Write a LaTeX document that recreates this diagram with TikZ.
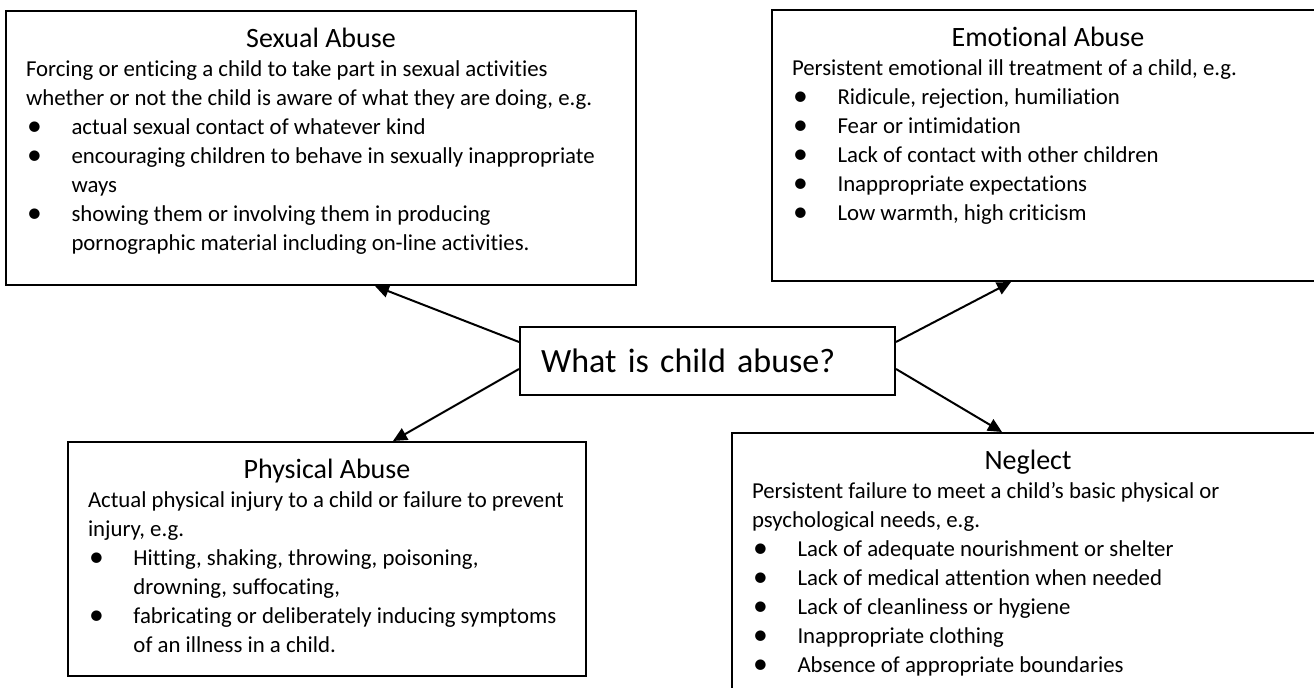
\documentclass[tikz,border=0pt]{standalone}
\usepackage{fontspec}
\usepackage{graphicx}
\setmainfont{Carlito}[Ligatures={NoCommon}]
\usetikzlibrary{arrows.meta}

\newcommand{\boxtitle}[1]{{\centering\fontsize{14}{14.5}\selectfont\rule{0pt}{18.5pt}#1\par}}
\newcommand{\boxline}[1]{\noindent\mbox{#1}\par}
\newcommand{\boxbullet}[1]{\noindent\makebox[22.75pt][l]{\hspace{0.5pt}\raisebox{-0.3pt}{\scalebox{1.3}{\textbullet}}}\mbox{#1}\par}
\newcommand{\boxmore}[1]{\noindent\hspace*{22.75pt}\mbox{#1}\par}
\newcommand{\boxbody}[3]{\parbox[t][#2][t]{#1}{\fontsize{11.4}{14.5}\selectfont #3}}

\begin{document}
\begin{tikzpicture}[x=0.5pt,y=-0.5pt,
    infobox/.style={draw, line width=1pt, anchor=north west, inner xsep=10pt, inner ysep=0pt},
    link/.style={line width=1pt, -{Triangle[length=7pt,width=6.5pt]}}]
\useasboundingbox (0,0) rectangle (1314,688);
\clip (0,0) rectangle (1314,688);
%----------question-----------------------------
\node[draw, line width=1pt, anchor=north west, minimum width=187.5pt, minimum height=34pt,
    inner xsep=10.5pt, text width=166.5pt, align=left, font=\fontsize{17}{20.4}\selectfont]
    (question) at (519,326) {What is child abuse?};
%----------sexual abuse-------------------------
\node[infobox] (sexual) at (5,10) {\boxbody{295pt}{137pt}{%
    \boxtitle{Sexual Abuse}
    \boxline{Forcing or enticing a child to take part in sexual activities}
    \boxline{whether or not the child is aware of what they are doing, e.g.}
    \boxbullet{actual sexual contact of whatever kind}
    \boxbullet{encouraging children to behave in sexually inappropriate}
    \boxmore{ways}
    \boxbullet{showing them or involving them in producing}
    \boxmore{pornographic material including on-line activities.}}};
%----------emotional abuse----------------------
\node[infobox] (emotional) at (771,9) {\boxbody{256pt}{135.5pt}{%
    \boxtitle{Emotional Abuse}
    \boxline{Persistent emotional ill treatment of a child, e.g.}
    \boxbullet{Ridicule, rejection, humiliation}
    \boxbullet{Fear or intimidation}
    \boxbullet{Lack of contact with other children}
    \boxbullet{Inappropriate expectations}
    \boxbullet{Low warmth, high criticism}}};
%----------physical abuse-----------------------
\node[infobox] (physical) at (67,441) {\boxbody{239pt}{117pt}{%
    \boxtitle{Physical Abuse}
    \boxline{Actual physical injury to a child or failure to prevent}
    \boxline{injury, e.g.}
    \boxbullet{Hitting, shaking, throwing, poisoning,}
    \boxmore{drowning, suffocating,}
    \boxbullet{fabricating or deliberately inducing symptoms}
    \boxmore{of an illness in a child.}}};
%----------neglect------------------------------
\node[infobox] (neglect) at (731,432) {\boxbody{276pt}{135pt}{%
    \boxtitle{Neglect}
    \boxline{Persistent failure to meet a child’s basic physical or}
    \boxline{psychological needs, e.g.}
    \boxbullet{Lack of adequate nourishment or shelter}
    \boxbullet{Lack of medical attention when needed}
    \boxbullet{Lack of cleanliness or hygiene}
    \boxbullet{Inappropriate clothing}
    \boxbullet{Absence of appropriate boundaries}}};
%----------arrows-------------------------------
\draw[link] ([yshift=9.5pt]question.west) -- ([xshift=185pt]sexual.south west);
\draw[link] ([yshift=-4pt]question.west) -- ([xshift=163pt]physical.north west);
\draw[link] ([yshift=9.5pt]question.east) -- ([xshift=120pt]emotional.south west);
\draw[link] ([yshift=-4pt]question.east) -- ([xshift=135.5pt]neglect.north west);
\end{tikzpicture}
\end{document}
